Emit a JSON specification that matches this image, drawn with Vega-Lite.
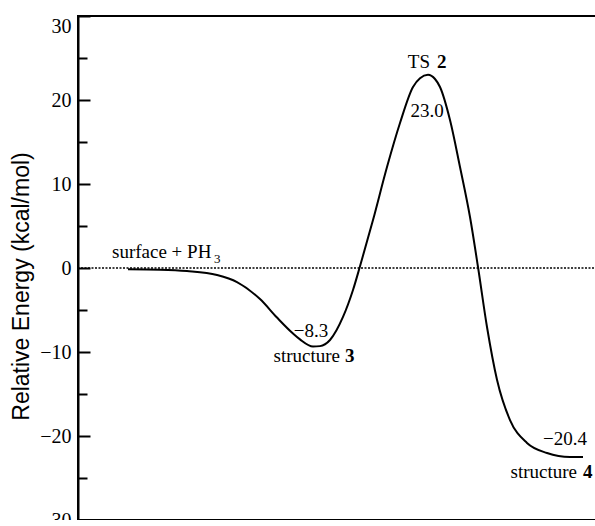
{
  "$schema": "https://vega.github.io/schema/vega-lite/v6.json",
  "width": 530,
  "height": 504,
  "autosize": {"type": "none"},
  "padding": {"left": 78, "top": 16, "right": 0, "bottom": 0},
  "background": "white",
  "config": {
    "view": {"stroke": "black", "strokeWidth": 2},
    "font": "Liberation Serif",
    "axis": {"labelFont": "Liberation Serif", "labelFontSize": 20, "labelColor": "black"}
  },
  "encoding": {
    "y": {
      "field": "y", "type": "quantitative",
      "scale": {"domain": [-30, 30], "nice": false, "zero": false},
      "axis": {
        "values": [-30, -25, -20, -15, -10, -5, 0, 5, 10, 15, 20, 25, 30],
        "labelExpr": "datum.value % 10 === 0 ? datum.label : ''",
        "tickSize": {"condition": {"test": "datum.value % 10 === 0", "value": -12}, "value": -9},
        "tickWidth": 2, "tickColor": "black",
        "domainColor": "black", "domainWidth": 2,
        "labelFont": "Liberation Serif", "labelFontSize": 20, "labelColor": "black", "labelPadding": 19,
        "labelBaseline": {"condition": {"test": "datum.value === 30", "value": "top"}, "value": "middle"},
        "grid": false,
        "title": "Relative Energy (kcal/mol)",
        "titleFont": "Liberation Sans", "titleFontSize": 23, "titleFontWeight": "normal", "titleColor": "black",
        "titleX": -45, "titleY": 270, "titleAngle": -90, "titleAlign": "center", "titleBaseline": "bottom"
      }
    }
  },
  "layer": [
    {
      "data": {"values": [{"y": 0}]},
      "mark": {"type": "rule", "color": "black", "strokeWidth": 1.6, "strokeDash": [2, 1.5]}
    },
    {
      "data": {"values": [
        {"x": 50, "y": -0.15}, {"x": 82, "y": -0.2}, {"x": 109, "y": -0.36}, {"x": 139, "y": -0.83},
        {"x": 159, "y": -1.67}, {"x": 182, "y": -3.7}, {"x": 199, "y": -5.9},
        {"x": 215, "y": -7.8}, {"x": 222, "y": -8.5}, {"x": 235, "y": -9.35}, {"x": 242, "y": -9.3},
        {"x": 252, "y": -8.57}, {"x": 265, "y": -5.83}, {"x": 275, "y": -2.62}, {"x": 282, "y": 0.2},
        {"x": 295, "y": 5.71}, {"x": 309, "y": 12.02}, {"x": 322, "y": 17.26}, {"x": 335, "y": 21.55},
        {"x": 342, "y": 22.6}, {"x": 350, "y": 23.0}, {"x": 357, "y": 22.5}, {"x": 362, "y": 21.55},
        {"x": 372, "y": 17.62}, {"x": 382, "y": 12.02}, {"x": 392, "y": 6.07}, {"x": 400, "y": 0.12},
        {"x": 409, "y": -7.02}, {"x": 419, "y": -13.3}, {"x": 432, "y": -18.1}, {"x": 449, "y": -20.83},
        {"x": 469, "y": -22.02}, {"x": 492, "y": -22.5}, {"x": 505, "y": -22.5}
      ]},
      "mark": {"type": "line", "color": "black", "strokeWidth": 2, "interpolate": "monotone"},
      "encoding": {"x": {"field": "x", "type": "quantitative", "scale": {"domain": [0, 530], "nice": false, "zero": false}, "axis": null}}
    },
    {
      "data": {"values": [
        {"x": 349, "y": 17.98, "t": "23.0"},
        {"x": 233, "y": -8.21, "t": "−8.3"},
        {"x": 487, "y": -21.07, "t": "−20.4"}
      ]},
      "mark": {"type": "text", "font": "Liberation Serif", "fontSize": 19, "color": "black", "align": "center", "baseline": "alphabetic"},
      "encoding": {"x": {"field": "x", "type": "quantitative", "scale": {"domain": [0, 530]}, "axis": null}, "text": {"field": "t"}}
    },
    {
      "data": {"values": [
        {"x": 352, "y": 23.8, "t": "TS"},
        {"x": 262, "y": -11.19, "t": "structure"},
        {"x": 499, "y": -25.0, "t": "structure"}
      ]},
      "mark": {"type": "text", "font": "Liberation Serif", "fontSize": 19, "color": "black", "align": "right", "baseline": "alphabetic"},
      "encoding": {"x": {"field": "x", "type": "quantitative", "scale": {"domain": [0, 530]}, "axis": null}, "text": {"field": "t"}}
    },
    {
      "data": {"values": [
        {"x": 359, "y": 23.8, "t": "2"},
        {"x": 267, "y": -11.19, "t": "3"},
        {"x": 505, "y": -25.0, "t": "4"}
      ]},
      "mark": {"type": "text", "font": "Liberation Serif", "fontSize": 19, "fontWeight": "bold", "color": "black", "align": "left", "baseline": "alphabetic"},
      "encoding": {"x": {"field": "x", "type": "quantitative", "scale": {"domain": [0, 530]}, "axis": null}, "text": {"field": "t"}}
    },
    {
      "data": {"values": [{"x": 34, "y": 1.19, "t": "surface + PH"}]},
      "mark": {"type": "text", "font": "Liberation Serif", "fontSize": 19, "color": "black", "align": "left", "baseline": "alphabetic"},
      "encoding": {"x": {"field": "x", "type": "quantitative", "scale": {"domain": [0, 530]}, "axis": null}, "text": {"field": "t"}}
    },
    {
      "data": {"values": [{"x": 136, "y": 0.6, "t": "3"}]},
      "mark": {"type": "text", "font": "Liberation Serif", "fontSize": 13, "color": "black", "align": "left", "baseline": "alphabetic"},
      "encoding": {"x": {"field": "x", "type": "quantitative", "scale": {"domain": [0, 530]}, "axis": null}, "text": {"field": "t"}}
    }
  ]
}
